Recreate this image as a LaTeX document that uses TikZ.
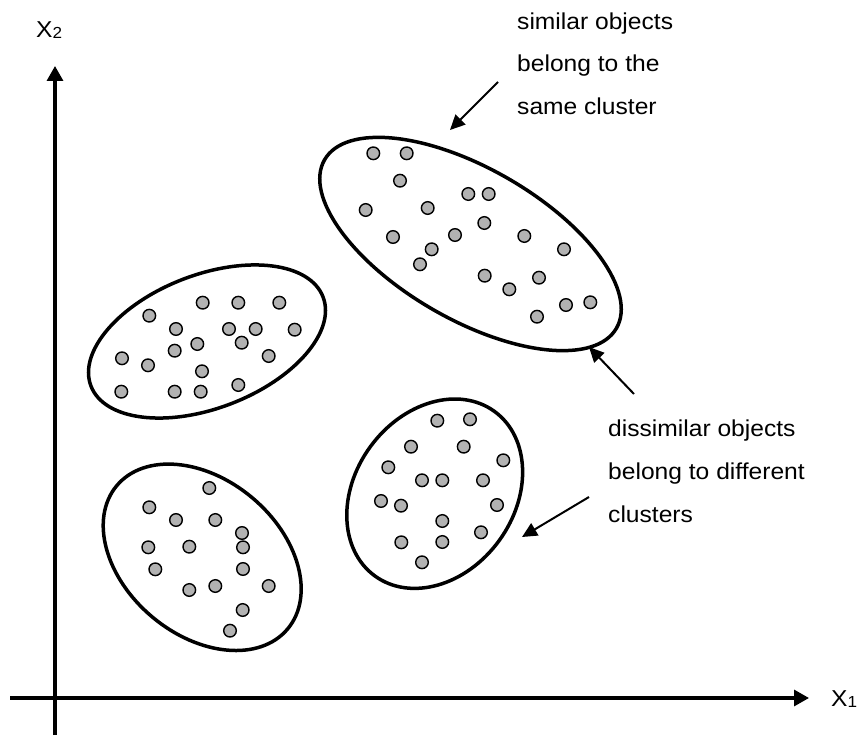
\documentclass[tikz,border=0pt]{standalone}
\usepackage{fontspec}
\setmainfont[FakeStretch=1.07]{Liberation Sans}
\usetikzlibrary{arrows.meta}
\begin{document}
\begin{tikzpicture}[x=1pt,y=-1pt,
  axis/.style={line width=3.2pt,-{Triangle[length=15pt,width=16pt]}},
  cluster/.style={line width=3.5pt},
  obj/.style={line width=1.4pt,draw=black,fill=black!30},
  pointer/.style={line width=2pt,-{Triangle[length=15pt,width=14pt]}},
  note/.style={font=\fontsize{23}{28}\selectfont,inner sep=0pt,anchor=base west},
  axlabel/.style={font=\fontsize{23}{28}\selectfont,inner sep=0pt,anchor=base west}]
\useasboundingbox (0,0) rectangle (860,738);

% axes
\coordinate (ybot) at (55,735);
\coordinate (ytop) at (55,66);
\coordinate (xleft) at (10,698);
\coordinate (xright) at (809,698);
\draw[axis] (ybot) -- (ytop);
\draw[axis] (xleft) -- (xright);
\node[axlabel] (xonelab) at (831,706.7) {X\raisebox{-1pt}{\fontsize{16}{16}\selectfont 1}};
\node[axlabel] (xtwolab) at (36,37.7) {X\raisebox{-1.3pt}{\fontsize{16}{16}\selectfont 2}};

% cluster outlines
\draw[cluster] (470.5,244) ellipse [x radius=168.5, y radius=75.5, rotate=-30];
\draw[cluster] (207,341.5) ellipse [x radius=124.3, y radius=66.7, rotate=21];
\draw[cluster] (202.2,557.3) ellipse [x radius=111.5, y radius=77.8, rotate=-40];
\draw[cluster] (434.7,493.7) ellipse [x radius=101.7, y radius=79.7, rotate=54];

% objects, upper right cluster
\foreach \p in {(373.3,153.3),(406.7,153.3),(400,180.7),(468.3,194),(488.7,194),
  (365.7,210),(427.7,208),(484.3,223),(393,237),(455,235),(524.3,236),
  (431.7,249.3),(564,249.3),(420,264.3),(484.7,275.7),(539,277.7),
  (509.3,289.3),(566,305),(590.3,302.3),(537,316.7)}
  \filldraw[obj] \p circle [radius=6.3];

% objects, upper left cluster
\foreach \p in {(202.7,302.7),(238.3,302.7),(279.3,302.7),(149.3,315.7),
  (176,329),(229,329),(255.7,329),(294.7,329.7),(197.3,344),(241.7,342.7),
  (174.7,350.7),(122,358.3),(148,365.3),(268.7,356),(202,371.3),
  (121.3,391.7),(174.7,391.7),(200.7,391.7),(238.3,385)}
  \filldraw[obj] \p circle [radius=6.3];

% objects, lower left cluster
\foreach \p in {(209.3,488),(149.3,507.3),(176,520),(215.3,520),(242,533),
  (148.3,547.3),(189.3,546.7),(243,547.3),(155.3,569.3),(243,569),
  (189.3,590),(215.3,586),(268.7,586),(242.7,610),(230,630.7)}
  \filldraw[obj] \p circle [radius=6.3];

% objects, lower right cluster
\foreach \p in {(437.3,420.7),(470,419.3),(411,446.7),(463.7,446.7),(503.3,460.3),
  (388.3,467.3),(422,480.3),(442.3,480.3),(483,480.3),(381,501),(401,505.7),
  (497,505),(442.3,521),(481,532.3),(401.3,542.3),(442.3,542),(422,562.3)}
  \filldraw[obj] \p circle [radius=6.3];

% annotations
\node[note] (simA) at (517,29.3) {similar objects};
\node[note] (simB) at (517,72) {belong to the};
\node[note] (simC) at (517,115) {same cluster};
\node[note] (disA) at (608,436) {dissimilar objects};
\node[note] (disB) at (608,479.3) {belong to different};
\node[note] (disC) at (608,522.7) {clusters};

\coordinate (simfrom) at (498,82);
\coordinate (simto) at (450,130);
\coordinate (disfromA) at (634,394);
\coordinate (distoA) at (589,347);
\coordinate (disfromB) at (589,497);
\coordinate (distoB) at (522,537);
\draw[pointer] (simfrom) -- (simto);
\draw[pointer] (disfromA) -- (distoA);
\draw[pointer] (disfromB) -- (distoB);
\end{tikzpicture}
\end{document}
